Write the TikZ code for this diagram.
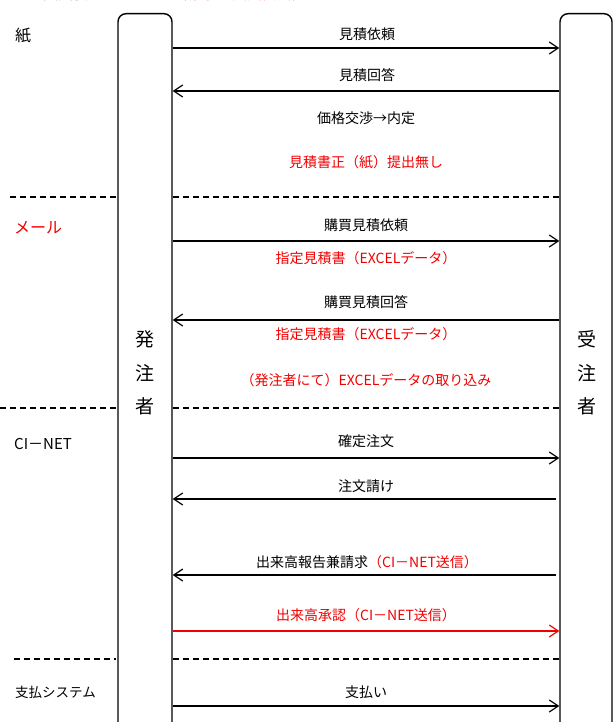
\documentclass[tikz,border=0pt]{standalone}
\usepackage{fontspec}
\setmainfont{Noto Sans CJK JP}
\usetikzlibrary{arrows.meta}
\definecolor{myred}{RGB}{240,0,0}
\tikzset{
  lifeline/.style={draw,line width=1.4pt,rounded corners=8pt,minimum width=54pt,minimum height=740pt,anchor=north,inner sep=0pt},
  msg/.style={line width=1.2pt,-{Straight Barb[length=9pt,width=12pt,line width=1.2pt]}},
  sep/.style={line width=1.2pt,dash pattern=on 6pt off 4pt},
  lbl/.style={font=\fontsize{14}{16}\selectfont,inner sep=0pt},
  cat/.style={font=\fontsize{16}{18}\selectfont,inner sep=0pt,anchor=west},
  who/.style={font=\fontsize{19}{21}\selectfont,inner sep=0pt},
  red/.style={text=myred,color=myred}
}
\begin{document}
\begin{tikzpicture}[x=1pt,y=-1pt]
\useasboundingbox (0,0) rectangle (614,722);
% clipped title
\node[lbl,anchor=south west,font=\fontsize{15}{17}\selectfont] (t1) at (28,1) {・変更後：};
\node[lbl,red,anchor=south west,font=\fontsize{15}{17}\selectfont] (t2) at (172,1) {（赤字の変更箇所）};
% lifelines
\node[lifeline,minimum width=54pt] (L) at (145,13) {};
\node[lifeline,minimum width=52pt] (R) at (586,13) {};
\node[who] (l1) at (145,339) {発};
\node[who] (l2) at (145,373) {注};
\node[who] (l3) at (145,406) {者};
\node[who] (r1) at (587,339) {受};
\node[who] (r2) at (587,373) {注};
\node[who] (r3) at (587,406) {者};
% categories
\node[cat] (c1) at (15,36) {紙};
\node[cat,red] (c2) at (14,228) {メール};
\node[cat,font=\fontsize{15}{17}\selectfont] (c3) at (14,444) {CI－NET};
\node[cat,font=\fontsize{13.5}{15}\selectfont] (c4) at (15,692) {支払システム};
% separators
\coordinate (s1a) at (10,197); \coordinate (s1b) at (118,197);
\draw[sep] (s1a) -- (s1b);
\draw[sep] (L.east |- 0,197) -- (R.west |- 0,197);
\coordinate (s2a) at (0,408); \coordinate (s2b) at (118,408);
\draw[sep] (s2a) -- (s2b);
\draw[sep] (L.east |- 0,408) -- (R.west |- 0,408);
\coordinate (s3a) at (14,659); \coordinate (s3b) at (116,659);
\draw[sep] (s3a) -- (s3b);
\draw[sep] (L.east |- 0,659) -- (R.west |- 0,659);
% messages
\node[lbl] (m1) at (367,34) {見積依頼};
\draw[msg] (L.east |- 0,48) -- (R.west |- 0,48);
\node[lbl] (m2) at (367,75) {見積回答};
\draw[msg] (R.west |- 0,91) -- (L.east |- 0,91);
\node[lbl] (m3) at (366,118) {価格交渉→内定};
\node[lbl,red] (m4) at (366,162) {見積書正（紙）提出無し};
\node[lbl] (m5) at (366,225) {購買見積依頼};
\draw[msg] (L.east |- 0,241) -- (R.west |- 0,241);
\node[lbl,red] (m6) at (366,258) {指定見積書（EXCELデータ）};
\node[lbl] (m7) at (366,302) {購買見積回答};
\draw[msg] (R.west |- 0,320) -- (L.east |- 0,320);
\node[lbl,red] (m8) at (366,334) {指定見積書（EXCELデータ）};
\node[lbl,red] (m9) at (366,380) {（発注者にて）EXCELデータの取り込み};
\node[lbl] (m10) at (366,441) {確定注文};
\draw[msg] (L.east |- 0,458) -- (R.west |- 0,458);
\node[lbl] (m11) at (366,486) {注文請け};
\draw[msg] ([xshift=-3pt]R.west |- 0,499) -- (L.east |- 0,499);
\node[lbl] (m12) at (367,562) {出来高報告兼請求\textcolor{myred}{（CI－NET送信）}};
\draw[msg] ([xshift=-3pt]R.west |- 0,575) -- (L.east |- 0,575);
\node[lbl,red] (m13) at (366,615) {出来高承認（CI－NET送信）};
\draw[msg,red] (L.east |- 0,631) -- (R.west |- 0,631);
\node[lbl] (m14) at (366,692) {支払い};
\draw[msg] (L.east |- 0,706) -- (R.west |- 0,706);
\end{tikzpicture}
\end{document}
